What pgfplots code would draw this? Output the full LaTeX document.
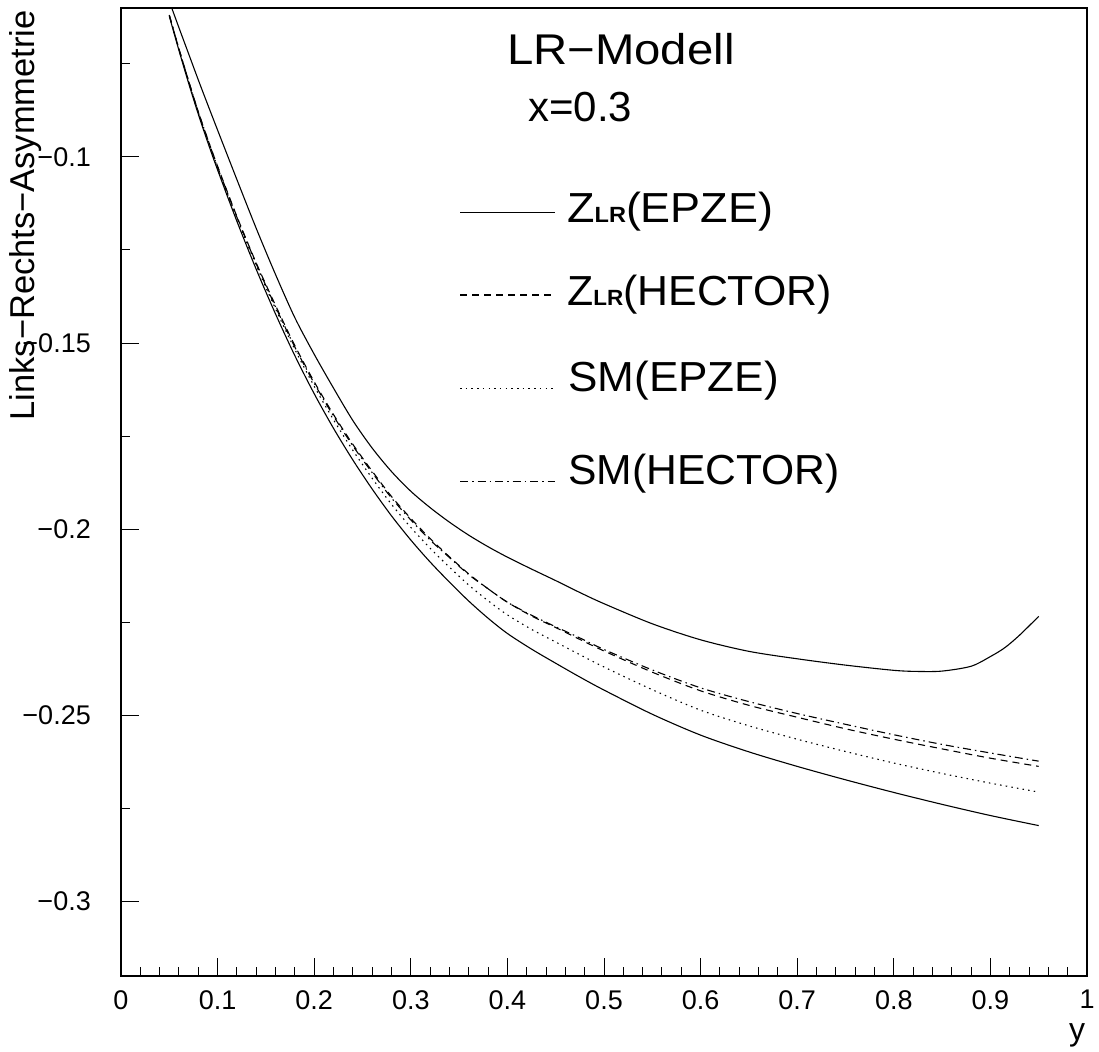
\documentclass[border=0pt]{standalone}
\usepackage{fontspec}
\setmainfont{Liberation Sans}
\usepackage{graphicx}
\usepackage{pgfplots}
\usepackage{pgfplotstable}
\pgfplotsset{compat=1.18}

\pgfplotstableread{
x      zlrH     smE      smH      low
0.05  -0.0619  -0.0620  -0.0619  -0.0622
0.06  -0.0710  -0.0711  -0.0710  -0.0714
0.07  -0.0796  -0.0798  -0.0796  -0.0802
0.08  -0.0879  -0.0881  -0.0879  -0.0885
0.09  -0.0954  -0.0957  -0.0954  -0.0962
0.10  -0.1025  -0.1029  -0.1027  -0.1035
0.12  -0.1160  -0.1165  -0.1162  -0.1173
0.14  -0.1285  -0.1291  -0.1287  -0.1302
0.16  -0.1399  -0.1408  -0.1403  -0.1422
0.18  -0.1507  -0.1517  -0.1511  -0.1534
0.20  -0.1604  -0.1616  -0.1608  -0.1636
0.22  -0.1692  -0.1706  -0.1696  -0.1729
0.24  -0.1772  -0.1788  -0.1776  -0.1814
0.26  -0.1844  -0.1863  -0.1848  -0.1892
0.28  -0.1912  -0.1933  -0.1916  -0.1964
0.30  -0.1971  -0.1995  -0.1975  -0.2029
0.32  -0.2025  -0.2051  -0.2029  -0.2088
0.34  -0.2074  -0.2102  -0.2076  -0.2142
0.36  -0.2120  -0.2150  -0.2122  -0.2193
0.38  -0.2160  -0.2192  -0.2160  -0.2239
0.40  -0.2196  -0.2230  -0.2196  -0.2280
0.425 -0.2233  -0.2269  -0.2231  -0.2322
0.45  -0.2264  -0.2303  -0.2262  -0.2360
0.475 -0.2296  -0.2337  -0.2292  -0.2397
0.50  -0.2327  -0.2370  -0.2323  -0.2432
0.55  -0.2384  -0.2431  -0.2378  -0.2497
0.60  -0.2434  -0.2486  -0.2426  -0.2553
0.65  -0.2473  -0.2528  -0.2463  -0.2598
0.70  -0.2505  -0.2564  -0.2495  -0.2637
0.75  -0.2536  -0.2597  -0.2524  -0.2673
0.80  -0.2564  -0.2628  -0.2552  -0.2707
0.85  -0.2590  -0.2656  -0.2578  -0.2739
0.90  -0.2615  -0.2682  -0.2601  -0.2769
0.95  -0.2637  -0.2706  -0.2623  -0.2796
}\lowtab

\pgfplotstableread{
x      zlrE
0.05  -0.0582
0.06  -0.0653
0.07  -0.0723
0.08  -0.0793
0.09  -0.0861
0.10  -0.0928
0.12  -0.1061
0.14  -0.1192
0.16  -0.1316
0.18  -0.1432
0.20  -0.1530
0.22  -0.1621
0.24  -0.1708
0.26  -0.1782
0.28  -0.1845
0.30  -0.1898
0.32  -0.1942
0.34  -0.1981
0.36  -0.2016
0.38  -0.2047
0.40  -0.2075
0.425 -0.2107
0.45  -0.2138
0.475 -0.2170
0.50  -0.2200
0.55  -0.2254
0.60  -0.2297
0.65  -0.2328
0.70  -0.2348
0.75  -0.2365
0.80  -0.2379
0.825 -0.2382
0.85  -0.2381
0.88  -0.2368
0.90  -0.2342
0.915 -0.2318
0.93  -0.2285
0.95  -0.2234
}\uptab

\tikzset{
  rdash/.style={dash pattern=on 7bp off 5bp},
  rdot/.style={dash pattern=on 1.5bp off 4.2bp},
  rdashdot/.style={dash pattern=on 8bp off 4bp on 1.5bp off 4bp},
  curve/.style={black, line width=1.1bp, no markers, smooth},
  legtext/.style={anchor=base west, inner sep=0pt, font=\fontsize{42bp}{42bp}\selectfont},
}
\newcommand{\sub}{{\fontsize{22bp}{22bp}\selectfont\bfseries LR}}

\begin{document}
\begin{tikzpicture}
\useasboundingbox (-121bp,-76bp) rectangle (978bp,976bp);
\begin{axis}[
  at={(0,0)}, anchor=south west,
  scale only axis, width=966bp, height=968bp,
  xmin=0, xmax=1, ymin=-0.32, ymax=-0.06,
  axis line style={line width=1.3bp},
  tick align=inside, tick pos=left,
  xtick={0,0.1,0.2,0.3,0.4,0.5,0.6,0.7,0.8,0.9,1},
  xticklabels={0,0.1,0.2,0.3,0.4,0.5,0.6,0.7,0.8,0.9,1},
  minor x tick num=4,
  ytick={-0.3,-0.25,-0.2,-0.15,-0.1},
  yticklabels={−0.3,−0.25,−0.2,−0.15,−0.1},
  minor ytick={-0.275,-0.225,-0.175,-0.125,-0.075},
  major tick length=18bp, minor tick length=9bp,
  every tick/.style={black, line width=1bp},
  ticklabel style={font=\fontsize{27bp}{27bp}\selectfont},
  xticklabel style={anchor=north, inner sep=0pt, yshift=-14bp},
  yticklabel style={anchor=east, inner sep=0pt, xshift=-30bp},
]
\addplot[curve] table[x=x, y=zlrE] {\uptab};
\addplot[curve, rdash] table[x=x, y=zlrH] {\lowtab};
\addplot[curve, rdot] table[x=x, y=smE] {\lowtab};
\addplot[curve, rdashdot] table[x=x, y=smH] {\lowtab};
\addplot[curve] table[x=x, y=low] {\lowtab};
\end{axis}

% title and legend
\node[anchor=base west, inner sep=0pt, font=\fontsize{43bp}{43bp}\selectfont] at (386bp,911bp) {\scalebox{1.1}[1]{LR−Modell}};
\node[legtext] at (407bp,854.3bp) {x=0.3};

\draw[line width=1.1bp] (339bp,763.7bp) -- (434bp,763.7bp);
\node[legtext] at (446bp,753.5bp) {\scalebox{1.07}[1]{Z\sub(EPZE)}};

\draw[line width=1.1bp, rdash] (339bp,681bp) -- (434bp,681bp);
\node[legtext] at (446bp,670bp) {\scalebox{1.02}[1]{Z\sub(HECTOR)}};

\draw[line width=1.1bp, rdot] (339bp,587.7bp) -- (434bp,587.7bp);
\node[legtext] at (447bp,584.3bp) {\scalebox{1.05}[1]{SM(EPZE)}};

\draw[line width=1.1bp, rdashdot] (339bp,494.3bp) -- (434bp,494.3bp);
\node[legtext] at (447bp,491bp) {\scalebox{1.015}[1]{SM(HECTOR)}};

% axis titles
\node[rotate=90, anchor=base east, inner sep=0pt, font=\fontsize{34.5bp}{34.5bp}\selectfont] at (-86bp,966bp) {Links−Rechts−Asymmetrie};
\node[anchor=base, inner sep=0pt, font=\fontsize{32bp}{32bp}\selectfont] at (956bp,-64bp) {y};
\end{tikzpicture}
\end{document}
